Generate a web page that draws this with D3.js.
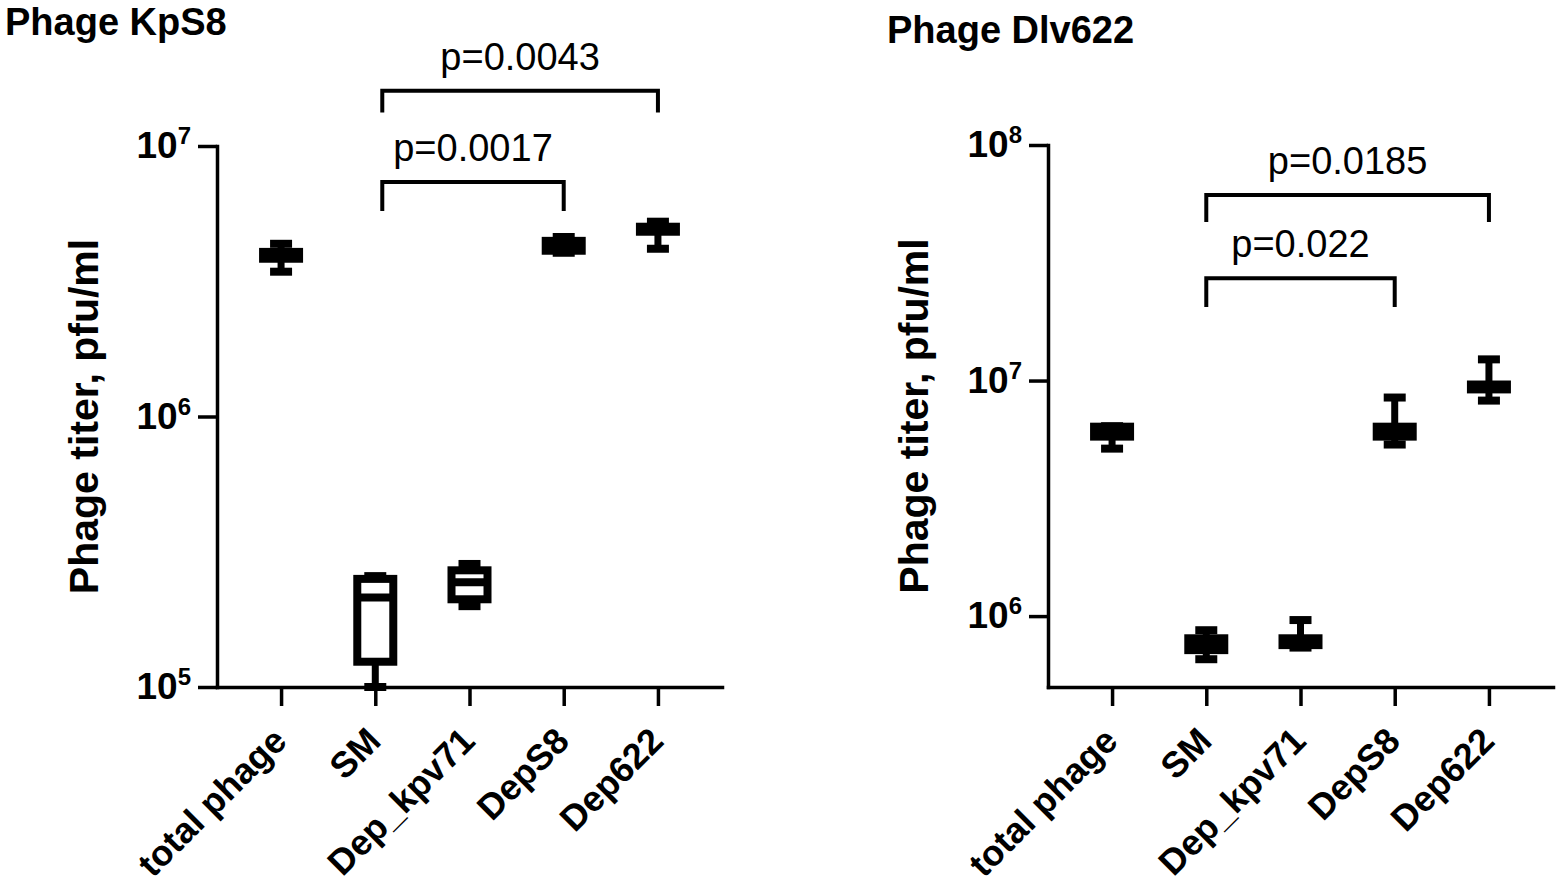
<!DOCTYPE html>
<html>
<head>
<meta charset="utf-8">
<script src="https://cdn.jsdelivr.net/npm/d3@7"></script>
<style>
  body { margin: 0; background: #fff; }
  svg { font-family: "Liberation Sans", Arial, sans-serif; }
</style>
</head>
<body>
<svg id="canvas" width="1559" height="889"></svg>
<script>
const categories = ['total phage', 'SM', 'Dep_kpv71', 'DepS8', 'Dep622'];

// Phage KpS8, pfu/ml (box = quartiles, whiskers = min..max)
const kps8Min    = [3.43e6, 1.00e5, 1.99e5, 4.03e6, 4.17e6];
const kps8Q1     = [3.83e6, 1.24e5, 2.11e5, 4.10e6, 4.82e6];
const kps8Median = [3.96e6, 2.14e5, 2.44e5, 4.27e6, 4.92e6];
const kps8Q3     = [4.06e6, 2.51e5, 2.70e5, 4.46e6, 5.03e6];
const kps8Max    = [4.35e6, 2.57e5, 2.85e5, 4.61e6, 5.25e6];
const kps8Ticks  = [1e5, 1e6, 1e7];

// Phage Dlv622, pfu/ml
const dlvMin    = [5.14e6, 6.56e5, 7.35e5, 5.35e6, 8.22e6];
const dlvQ1     = [5.78e6, 7.17e5, 7.53e5, 5.78e6, 9.17e6];
const dlvMedian = [6.08e6, 7.60e5, 7.83e5, 6.08e6, 9.40e6];
const dlvQ3     = [6.37e6, 8.05e5, 8.05e5, 6.37e6, 9.62e6];
const dlvMax    = [6.40e6, 8.71e5, 9.62e5, 8.47e6, 1.23e7];
const dlvTicks  = [1e6, 1e7, 1e8];

// significance brackets: groups, top / leg-end level (pfu/ml), label
const kps8Brackets = [
    { from: 'SM', to: 'Dep622', top: 1.60e7, low: 1.33e7, label: 'p=0.0043' },
    { from: 'SM', to: 'DepS8',  top: 7.36e6, low: 5.75e6, label: 'p=0.0017' }
];
const dlvBrackets = [
    { from: 'SM', to: 'Dep622', top: 6.14e7, low: 4.71e7, label: 'p=0.0185' },
    { from: 'SM', to: 'DepS8',  top: 2.72e7, low: 2.05e7, label: 'p=0.022' }
];

let canvas = d3.select('#canvas');

let drawPanel = (opt) => {
    let x = d3.scalePoint()
        .domain(categories)
        .range([opt.left, opt.right])
        .padding(0.68);

    let y = d3.scaleLog()
        .domain(opt.domain)
        .range([opt.bottom, opt.top]);

    let g = canvas.append('g');

    // title
    g.append('text')
        .attr('x', opt.titleX)
        .attr('y', opt.titleY)
        .attr('font-size', 38)
        .attr('font-weight', 'bold')
        .text(opt.title);

    // y axis label
    g.append('text')
        .attr('transform', 'translate(' + opt.labelX + ',' + ((opt.top + opt.bottom) / 2) + ') rotate(-90)')
        .attr('text-anchor', 'middle')
        .attr('dy', '0.35em')
        .attr('font-size', 41)
        .attr('font-weight', 'bold')
        .text('Phage titer, pfu/ml');

    // y axis
    let yAxis = g.append('g')
        .attr('transform', 'translate(' + opt.left + ',0)')
        .call(d3.axisLeft(y).tickValues(opt.ticks).tickSize(19).tickSizeOuter(0).tickPadding(7).tickFormat(''));

    yAxis.selectAll('.tick text').each(function (d) {
        let t = d3.select(this)
            .attr('font-size', 37)
            .attr('font-weight', 'bold')
            .attr('fill', '#000')
            .attr('font-family', '"Liberation Sans", Arial, sans-serif');
        t.append('tspan').text('10');
        t.append('tspan')
            .attr('font-size', 24)
            .attr('dy', -14)
            .text(Math.round(Math.log10(d)));
    });

    // x axis
    let xAxis = g.append('g')
        .attr('transform', 'translate(0,' + opt.bottom + ')')
        .call(d3.axisBottom(x).tickSize(19).tickSizeOuter(0));

    xAxis.selectAll('.tick text')
        .attr('font-size', 36)
        .attr('font-weight', 'bold')
        .attr('fill', '#000')
        .attr('font-family', '"Liberation Sans", Arial, sans-serif')
        .attr('text-anchor', 'end')
        .attr('dy', null)
        .attr('y', null)
        .attr('transform', 'translate(7,56) rotate(-45)');

    [yAxis, xAxis].forEach(ax => {
        ax.selectAll('path, line')
            .attr('stroke', '#000')
            .attr('stroke-width', 3.5);
        ax.select('.domain').attr('stroke-linecap', 'square');
    });

    // box plots
    let boxes = categories.map((c, i) => ({
        cat: c, min: opt.min[i], q1: opt.q1[i], med: opt.median[i], q3: opt.q3[i], max: opt.max[i]
    }));

    let bw = 36, cw = 11;
    let bg = g.selectAll('g.box')
        .data(boxes)
        .enter()
        .append('g')
        .attr('class', 'box')
        .attr('stroke', '#000');

    bg.append('line')
        .attr('x1', d => x(d.cat)).attr('x2', d => x(d.cat))
        .attr('y1', d => y(d.min)).attr('y2', d => y(d.max))
        .attr('stroke-width', 7);

    bg.append('line')
        .attr('x1', d => x(d.cat) - cw).attr('x2', d => x(d.cat) + cw)
        .attr('y1', d => y(d.max)).attr('y2', d => y(d.max))
        .attr('stroke-width', 8);

    bg.append('line')
        .attr('x1', d => x(d.cat) - cw).attr('x2', d => x(d.cat) + cw)
        .attr('y1', d => y(d.min)).attr('y2', d => y(d.min))
        .attr('stroke-width', 8);

    bg.append('rect')
        .attr('x', d => x(d.cat) - bw / 2)
        .attr('width', bw)
        .attr('y', d => y(d.q3))
        .attr('height', d => y(d.q1) - y(d.q3))
        .attr('fill', '#fff')
        .attr('stroke-width', 8);

    bg.append('line')
        .attr('x1', d => x(d.cat) - bw / 2).attr('x2', d => x(d.cat) + bw / 2)
        .attr('y1', d => y(d.med)).attr('y2', d => y(d.med))
        .attr('stroke-width', 8);

    // significance brackets
    let br = g.selectAll('g.bracket')
        .data(opt.brackets)
        .enter()
        .append('g')
        .attr('class', 'bracket');

    br.append('path')
        .attr('d', d => {
            let x1 = x(d.from) + opt.legShift, x2 = x(d.to);
            return 'M' + x1 + ',' + y(d.low) + 'V' + y(d.top) + 'H' + x2 + 'V' + y(d.low);
        })
        .attr('fill', 'none')
        .attr('stroke', '#000')
        .attr('stroke-width', 4);

    br.append('text')
        .attr('x', d => (x(d.from) + opt.legShift + x(d.to)) / 2)
        .attr('y', d => y(d.top) - 21)
        .attr('text-anchor', 'middle')
        .attr('font-size', 38)
        .text(d => d.label);
}

drawPanel({
    title: 'Phage KpS8', titleX: 5, titleY: 35, labelX: 84,
    left: 217, right: 722, top: 146, bottom: 687,
    domain: [1e5, 1e7], ticks: kps8Ticks,
    min: kps8Min, q1: kps8Q1, median: kps8Median, q3: kps8Q3, max: kps8Max,
    brackets: kps8Brackets, legShift: 7
});

drawPanel({
    title: 'Phage Dlv622', titleX: 887, titleY: 43, labelX: 914,
    left: 1048, right: 1553, top: 145, bottom: 687,
    domain: [5e5, 1e8], ticks: dlvTicks,
    min: dlvMin, q1: dlvQ1, median: dlvMedian, q3: dlvQ3, max: dlvMax,
    brackets: dlvBrackets, legShift: 0
});
</script>
</body>
</html>
